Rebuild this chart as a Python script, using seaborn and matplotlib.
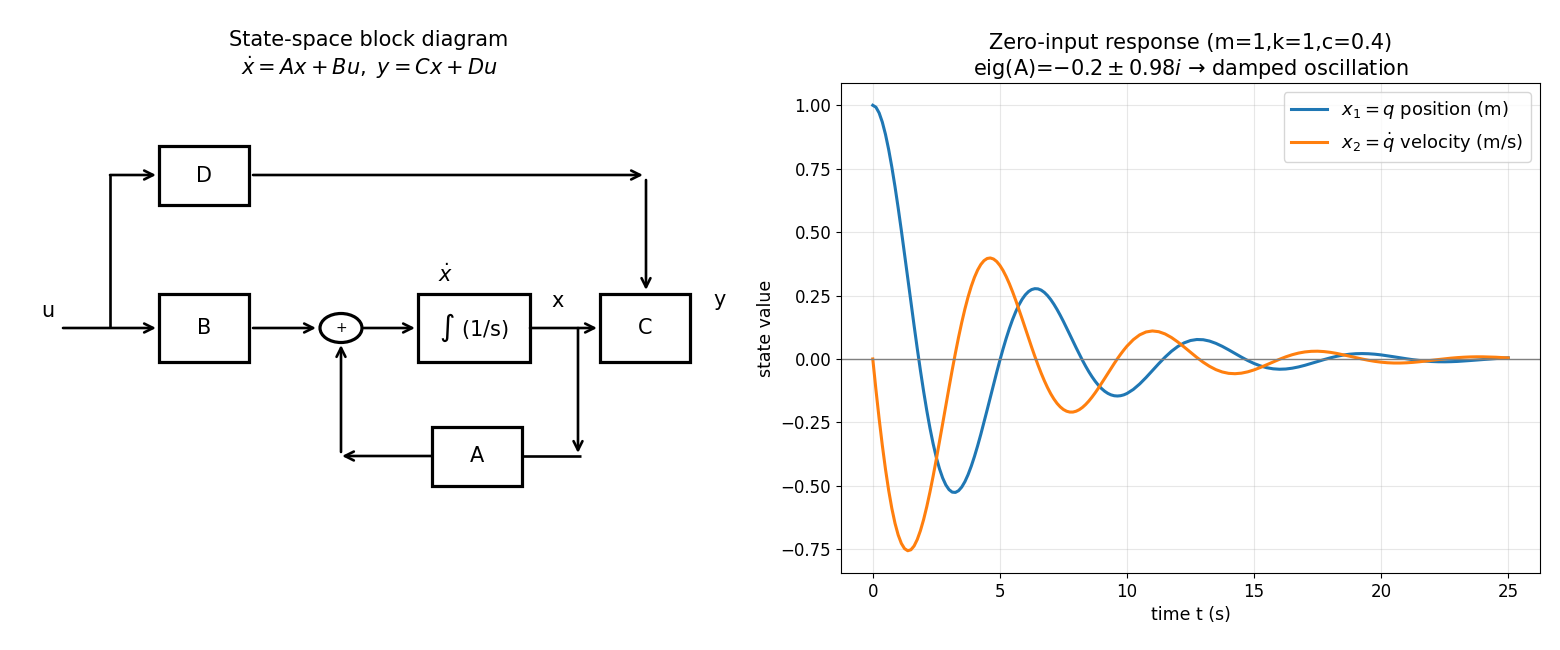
import matplotlib
matplotlib.use("Agg")
import matplotlib.pyplot as plt
from matplotlib.patches import Rectangle, Ellipse
import seaborn as sns

# ---------------- data ----------------
t = [0.0, 0.125, 0.25, 0.375, 0.5, 0.625, 0.75, 0.875, 1.0, 1.125, 1.25, 1.375, 1.5, 1.625,
     1.75, 1.875, 2.0, 2.125, 2.25, 2.375, 2.5, 2.625, 2.75, 2.875, 3.0, 3.125, 3.25, 3.375,
     3.5, 3.625, 3.75, 3.875, 4.0, 4.125, 4.25, 4.375, 4.5, 4.625, 4.75, 4.875, 5.0, 5.125,
     5.25, 5.375, 5.5, 5.625, 5.75, 5.875, 6.0, 6.125, 6.25, 6.375, 6.5, 6.625, 6.75, 6.875,
     7.0, 7.125, 7.25, 7.375, 7.5, 7.625, 7.75, 7.875, 8.0, 8.125, 8.25, 8.375, 8.5, 8.625,
     8.75, 8.875, 9.0, 9.125, 9.25, 9.375, 9.5, 9.625, 9.75, 9.875, 10.0,
     10.25, 10.5, 10.75, 11.0, 11.25, 11.5, 11.75, 12.0, 12.25, 12.5, 12.75, 13.0, 13.25,
     13.5, 13.75, 14.0, 14.25, 14.5, 14.75, 15.0, 15.25, 15.5, 15.75, 16.0, 16.25, 16.5,
     16.75, 17.0, 17.25, 17.5, 17.75, 18.0, 18.25, 18.5, 18.75, 19.0, 19.25, 19.5, 19.75,
     20.0, 20.25, 20.5, 20.75, 21.0, 21.25, 21.5, 21.75, 22.0, 22.25, 22.5, 22.75, 23.0,
     23.25, 23.5, 23.75, 24.0, 24.25, 24.5, 24.75, 25.0]
x1_position = [1.0000, 0.9923, 0.9699, 0.9338, 0.8853, 0.8257, 0.7564, 0.6790, 0.5950, 0.5060,
               0.4137, 0.3196, 0.2252, 0.1320, 0.0413, -0.0455, -0.1275, -0.2035, -0.2727,
               -0.3344, -0.3880, -0.4330, -0.4693, -0.4967, -0.5151, -0.5249, -0.5261, -0.5193,
               -0.5049, -0.4836, -0.4559, -0.4226, -0.3845, -0.3425, -0.2972, -0.2497, -0.2006,
               -0.1509, -0.1014, -0.0527, -0.0055, 0.0394, 0.0815, 0.1203, 0.1554, 0.1864,
               0.2131, 0.2352, 0.2527, 0.2655, 0.2736, 0.2771, 0.2763, 0.2713, 0.2624, 0.2499,
               0.2343, 0.2158, 0.1950, 0.1722, 0.1479, 0.1225, 0.0965, 0.0703, 0.0444, 0.0190,
               -0.0055, -0.0287, -0.0503, -0.0700, -0.0878, -0.1034, -0.1166, -0.1274, -0.1357,
               -0.1416, -0.1450, -0.1460, -0.1448, -0.1415, -0.1361,
               -0.1201, -0.0986, -0.0733, -0.0460, -0.0186, 0.0072, 0.0302, 0.0492, 0.0635,
               0.0727, 0.0767, 0.0758, 0.0705, 0.0615, 0.0497, 0.0361, 0.0217, 0.0074, -0.0060,
               -0.0178, -0.0274, -0.0345, -0.0388, -0.0405, -0.0396, -0.0364, -0.0314, -0.0250,
               -0.0177, -0.0101, -0.0026, 0.0043, 0.0104, 0.0152, 0.0187, 0.0207, 0.0213,
               0.0206, 0.0188, 0.0160, 0.0125, 0.0086, 0.0046, 0.0007, -0.0029, -0.0059,
               -0.0084, -0.0101, -0.0110, -0.0112, -0.0107, -0.0097, -0.0081, -0.0062, -0.0042,
               -0.0021, -0.0000, 0.0018, 0.0034, 0.0046]
x2_velocity = [0.0000, -0.1216, -0.2354, -0.3401, -0.4345, -0.5177, -0.5890, -0.6478, -0.6939,
               -0.7272, -0.7477, -0.7559, -0.7522, -0.7373, -0.7118, -0.6767, -0.6331, -0.5819,
               -0.5244, -0.4617, -0.3950, -0.3256, -0.2546, -0.1832, -0.1125, -0.0435, 0.0228,
               0.0855, 0.1438, 0.1971, 0.2448, 0.2865, 0.3217, 0.3504, 0.3723, 0.3875, 0.3960,
               0.3981, 0.3940, 0.3842, 0.3689, 0.3488, 0.3244, 0.2962, 0.2649, 0.2311, 0.1954,
               0.1585, 0.1210, 0.0834, 0.0464, 0.0105, -0.0237, -0.0560, -0.0858, -0.1129,
               -0.1370, -0.1577, -0.1751, -0.1889, -0.1992, -0.2060, -0.2093, -0.2093, -0.2060,
               -0.1998, -0.1909, -0.1795, -0.1659, -0.1504, -0.1334, -0.1152, -0.0962, -0.0766,
               -0.0568, -0.0371, -0.0178, 0.0009, 0.0186, 0.0351, 0.0504,
               0.0761, 0.0950, 0.1064, 0.1104, 0.1075, 0.0986, 0.0846, 0.0670, 0.0471, 0.0263,
               0.0059, -0.0129, -0.0291, -0.0421, -0.0513, -0.0567, -0.0581, -0.0560, -0.0508,
               -0.0431, -0.0335, -0.0229, -0.0119, -0.0013, 0.0084, 0.0167, 0.0232, 0.0277,
               0.0301, 0.0306, 0.0291, 0.0261, 0.0219, 0.0167, 0.0111, 0.0053, -0.0002,
               -0.0052, -0.0094, -0.0127, -0.0149, -0.0160, -0.0160, -0.0151, -0.0134, -0.0111,
               -0.0083, -0.0053, -0.0023, 0.0006, 0.0032, 0.0053, 0.0069, 0.0080, 0.0085,
               0.0084, 0.0078, 0.0069, 0.0056, 0.0041]
series_labels = [r"$x_1 = q$ position (m)", r"$x_2 = \dot{q}$ velocity (m/s)"]
series_colors = ["#1f77b4", "#ff7f0e"]
xticks = [0, 5, 10, 15, 20, 25]
yticks = [-0.75, -0.50, -0.25, 0.00, 0.25, 0.50, 0.75, 1.00]

block_names = ["D", "B", "$\\int$ (1/s)", "C", "A"]

# ---------------- figure ----------------
W, H = 1560, 650
fig = plt.figure(figsize=(15.6, 6.5), dpi=100)
axL = fig.add_axes([31 / W, 1 - 573 / H, 676 / W, 490 / H])
axR = fig.add_axes([841 / W, 1 - 573 / H, 699 / W, 490 / H])

# ---------------- left: block diagram ----------------
axL.set_xlim(31, 707)
axL.set_ylim(573, 83)
axL.axis("off")
axL.set_title("State-space block diagram\n$\\dot{x} = Ax + Bu,\\ y = Cx + Du$", fontsize=15)

LW = 1.9
BOX_LW = 2.3


def box(x0, y0, w, h, label):
    axL.add_patch(Rectangle((x0, y0), w, h, fill=False, lw=BOX_LW, ec="black"))
    axL.text(x0 + w / 2, y0 + h / 2, label, ha="center", va="center", fontsize=15)


def arrow(xa, ya, xb, yb):
    axL.annotate("", xy=(xb, yb), xytext=(xa, ya),
                 arrowprops=dict(arrowstyle="->", lw=LW, color="black",
                                 shrinkA=0, shrinkB=0, mutation_scale=16))


def line(xs, ys):
    axL.plot(xs, ys, color="black", lw=LW, solid_capstyle="butt")


box(159, 146, 90, 59, block_names[0])
box(159, 294, 90, 68, block_names[1])
box(418, 294, 112, 68, block_names[2])
box(600, 294, 90, 68, block_names[3])
box(432, 427, 90, 59, block_names[4])

axL.add_patch(Ellipse((341, 328), 42, 29, fill=False, lw=BOX_LW, ec="black"))
axL.text(341, 328, "+", ha="center", va="center", fontsize=10)

# input
axL.text(48, 311, "u", ha="center", va="center", fontsize=15)
arrow(63, 328, 156, 328)
line([110, 110], [328, 175])
arrow(110, 175, 156, 175)
# D path
arrow(253, 175, 643, 175)
arrow(646, 180, 646, 290)
# forward path
arrow(253, 328, 316, 328)
arrow(364, 328, 415, 328)
arrow(530, 328, 597, 328)
arrow(690, 328, 715, 328)
axL.text(446, 275, "$\\dot{x}$", ha="center", va="center", fontsize=15)
axL.text(558, 301, "x", ha="center", va="center", fontsize=15)
axL.text(720, 300, "y", ha="center", va="center", fontsize=15)
# feedback
arrow(578, 328, 578, 453)
line([522, 581], [456, 456])
arrow(432, 456, 342, 456)
arrow(341, 452, 341, 345)

# ---------------- right: response ----------------
sns.lineplot(x=t, y=x1_position, ax=axR, color=series_colors[0], lw=2.2,
             label=series_labels[0])
sns.lineplot(x=t, y=x2_velocity, ax=axR, color=series_colors[1], lw=2.2,
             label=series_labels[1])
axR.axhline(0, color="gray", lw=1)
axR.grid(True, alpha=0.3)
axR.set_xticks(xticks)
axR.set_yticks(yticks)
axR.tick_params(labelsize=12)
axR.set_xlabel("time t (s)", fontsize=12.5)
axR.set_ylabel("state value", fontsize=12.5)
axR.set_title("Zero-input response (m=1,k=1,c=0.4)\n"
              "eig(A)=$-0.2 \\pm 0.98i$ \u2192 damped oscillation", fontsize=15)
handles, labels = axR.get_legend_handles_labels()
axR.legend(handles, labels, loc="upper right", fontsize=13)

fig.savefig("out.png", dpi=100)
